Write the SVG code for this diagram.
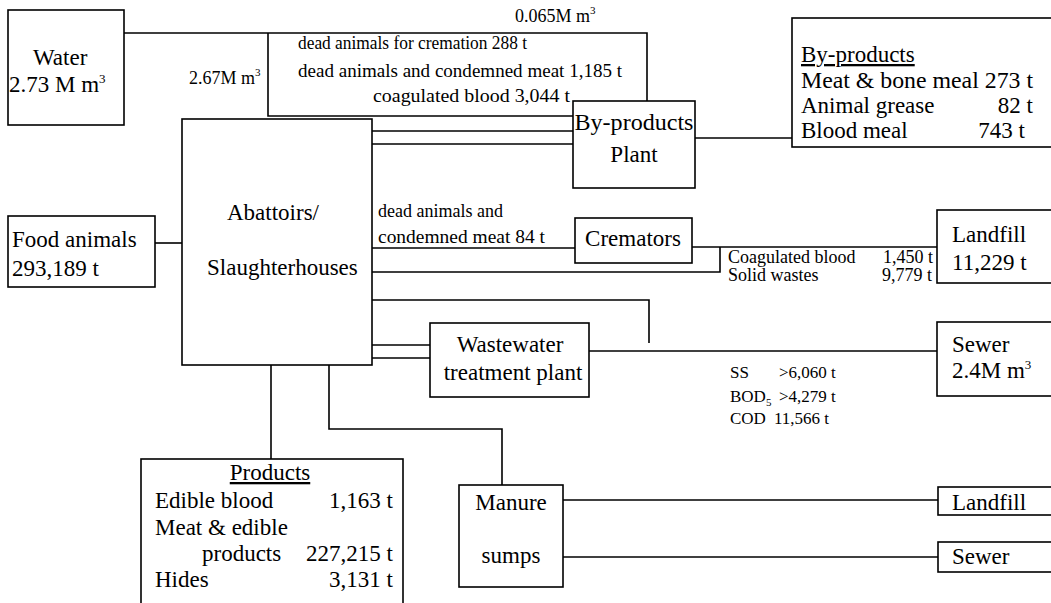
<svg xmlns="http://www.w3.org/2000/svg" width="1051" height="603" viewBox="0 0 1051 603">
<style>
.b{fill:#fff;stroke:#000;stroke-width:1.6}
.c{fill:none;stroke:#000;stroke-width:1.6}
text{font-family:"Liberation Serif","Times New Roman",serif;fill:#000}
.L{font-size:23px}
.S{font-size:18px}
.T{font-size:17px}
.u{text-decoration:underline}
.e{text-anchor:end}
.m{text-anchor:middle}
</style>
<rect width="1051" height="603" fill="#fff"/>
<g id="connectors" class="c">
<path d="M124,33 H647 V101"/>
<path d="M268,33 V116 H573"/>
<path d="M372,131 H573"/>
<path d="M372,144 H573"/>
<path d="M695,138 H792"/>
<path d="M155,243 H182"/>
<path d="M372,248 H575"/>
<path d="M692,247 H937"/>
<path d="M372,272 H720 V247"/>
<path d="M372,300 H649 V343"/>
<path d="M372,345 H430"/>
<path d="M372,358 H430"/>
<path d="M589,351 H937"/>
<path d="M271,365 V459"/>
<path d="M329,365 V429 H502 V485"/>
<path d="M563,500 H938"/>
<path d="M563,557 H938"/>
</g>
<g id="flow-labels">
<text class="S" x="515" y="22">0.065M m<tspan font-size="11" dy="-8">3</tspan></text>
<text class="S" x="189" y="84">2.67M m<tspan font-size="11" dy="-8">3</tspan></text>
<text class="S" x="298" y="49" textLength="229" lengthAdjust="spacingAndGlyphs">dead animals for cremation 288 t</text>
<text class="S" x="298" y="77" textLength="324" lengthAdjust="spacingAndGlyphs">dead animals and condemned meat 1,185 t</text>
<text class="S" x="373" y="102" textLength="197" lengthAdjust="spacingAndGlyphs">coagulated blood 3,044 t</text>
<text class="S" x="378" y="217">dead animals and</text>
<text class="S" x="378" y="243" textLength="167" lengthAdjust="spacingAndGlyphs">condemned meat 84 t</text>
<text class="S" x="728" y="263">Coagulated blood</text>
<text class="S e" x="933" y="263">1,450 t</text>
<text class="S" x="728" y="281">Solid wastes</text>
<text class="S e" x="932" y="281">9,779 t</text>
<text class="T" x="730" y="378">SS</text>
<text class="T" x="779" y="378">&gt;6,060 t</text>
<text class="T" x="730" y="402">BOD<tspan font-size="11" dy="4">5</tspan></text>
<text class="T" x="779" y="402">&gt;4,279 t</text>
<text class="T" x="730" y="424">COD</text>
<text class="T" x="774" y="424">11,566 t</text>
</g>
<g id="water">
<rect class="b" x="8" y="10" width="116" height="115"/>
<text class="L" x="33" y="65">Water</text>
<text class="L" x="9" y="92">2.73 M m<tspan font-size="13" dy="-9">3</tspan></text>
</g>
<g id="food-animals">
<rect class="b" x="8" y="216" width="147" height="71"/>
<text class="L" x="12" y="247">Food animals</text>
<text class="L" x="12" y="276">293,189 t</text>
</g>
<g id="abattoirs">
<rect class="b" x="182" y="119" width="190" height="246"/>
<text class="L" x="227" y="220">Abattoirs/</text>
<text class="L" x="207" y="275">Slaughterhouses</text>
</g>
<g id="byproducts-plant">
<rect class="b" x="573" y="101" width="122" height="87"/>
<text class="L m" x="634" y="130" textLength="119" lengthAdjust="spacingAndGlyphs">By-products</text>
<text class="L m" x="634" y="162">Plant</text>
</g>
<g id="byproducts">
<rect class="b" x="792" y="18" width="264" height="129"/>
<text class="L u" x="801" y="62">By-products</text>
<text class="L" x="801" y="88" textLength="232" lengthAdjust="spacingAndGlyphs">Meat &amp; bone meal 273 t</text>
<text class="L" x="801" y="113">Animal grease</text>
<text class="L e" x="1033" y="113">82 t</text>
<text class="L" x="801" y="138">Blood meal</text>
<text class="L e" x="1025" y="138">743 t</text>
</g>
<g id="cremators">
<rect class="b" x="575" y="218" width="117" height="45"/>
<text class="L m" x="633" y="246">Cremators</text>
</g>
<g id="landfill-1">
<rect class="b" x="937" y="210" width="120" height="73"/>
<text class="L" x="952" y="242">Landfill</text>
<text class="L" x="952" y="270">11,229 t</text>
</g>
<g id="wastewater-plant">
<rect class="b" x="430" y="323" width="159" height="74"/>
<text class="L m" x="510" y="352">Wastewater</text>
<text class="L m" x="513" y="380">treatment plant</text>
</g>
<g id="sewer-1">
<rect class="b" x="937" y="322" width="120" height="74"/>
<text class="L" x="952" y="352">Sewer</text>
<text class="L" x="952" y="378">2.4M m<tspan font-size="13" dy="-9">3</tspan></text>
</g>
<g id="products">
<rect class="b" x="141" y="459" width="262" height="160"/>
<text class="L m u" x="270" y="480">Products</text>
<text class="L" x="155" y="508">Edible blood</text>
<text class="L e" x="393" y="508">1,163 t</text>
<text class="L" x="155" y="535">Meat &amp; edible</text>
<text class="L" x="202" y="561">products</text>
<text class="L e" x="393" y="561">227,215 t</text>
<text class="L" x="155" y="587">Hides</text>
<text class="L e" x="393" y="587">3,131 t</text>
</g>
<g id="manure-sumps">
<rect class="b" x="459" y="485" width="104" height="102"/>
<text class="L m" x="511" y="510">Manure</text>
<text class="L m" x="511" y="563">sumps</text>
</g>
<g id="landfill-2">
<rect class="b" x="938" y="487" width="120" height="28"/>
<text class="L" x="952" y="510">Landfill</text>
</g>
<g id="sewer-2">
<rect class="b" x="938" y="542" width="120" height="30"/>
<text class="L" x="952" y="564">Sewer</text>
</g>
</svg>
